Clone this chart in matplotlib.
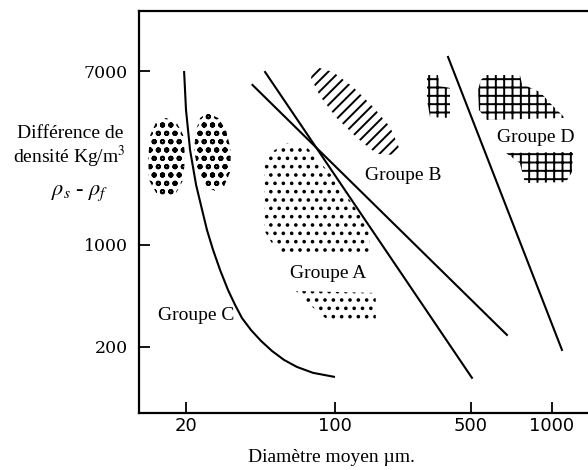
import numpy as np
import matplotlib
matplotlib.use('Agg')
import matplotlib.pyplot as plt
from matplotlib.patches import Polygon

# axis ticks (mean diameter in um, density difference in kg/m3)
x_ticks = [20, 100, 500, 1000]
y_ticks = [200, 1000, 7000]

# boundary C / A (curve)
c_d = [19.6, 20.0, 20.9, 22.3, 23.8, 25.1, 26.8, 28.9, 31.5, 34.0, 36.6, 40.4,
       45.0, 50.6, 57.7, 66.3, 78.9, 98.9]
c_rho = [6920, 4530, 2890, 1960, 1480, 1180, 924, 674, 491, 388, 316, 261,
         220, 188, 163, 146, 133, 125]
# the two A / B boundaries and the B / D boundary
ab1_d = [47, 504]
ab1_rho = [6920, 123]
ab2_d = [41, 680]
ab2_rho = [5990, 242]
bd_d = [381, 1089]
bd_rho = [8190, 191]

# shaded zones where each group was observed
c1_d = [16.1, 18.0, 19.4, 19.8, 19.4, 18.0, 16.1, 14.5, 13.4, 13.3, 13.6, 14.5]
c1_rho = [4140, 3960, 3420, 2680, 2070, 1790, 1710, 1790, 2070, 2680, 3420, 3960]
c2_d = [25.1, 28.3, 30.8, 32.5, 32.2, 30.2, 27.4, 24.6, 22.8, 21.8, 22.3, 23.3]
c2_rho = [4380, 4140, 3620, 2890, 2260, 1930, 1830, 1930, 2260, 2890, 3620, 4140]
a1_d = [58.3, 72.3, 83.2, 97.9, 119, 138, 150, 150, 58.3, 51.2, 46.5, 46.5, 50.6]
a1_rho = [3130, 3060, 2590, 2140, 1650, 1350, 1180, 868, 868, 1000, 1180, 2450, 2830]
a2_d = [65.6, 162, 162, 94.7, 76.3]
a2_rho = [484, 469, 297, 297, 388]
b_d = [78.9, 97.9, 124, 157, 192, 216, 203, 164, 130, 102, 85.0, 77.2]
b_rho = [7400, 6920, 5850, 4680, 3740, 2890, 2740, 2770, 3310, 4140, 5290, 6470]
d1_d = [297, 338, 346, 390, 390, 308, 297]
d1_rho = [6690, 6690, 5920, 5790, 4140, 4180, 5060]
d2_d = [569, 760, 774, 903, 1008, 1118, 573, 535, 531, 544]
d2_rho = [6690, 6690, 6050, 5530, 4730, 4140, 4050, 4530, 5660, 6330]
d3_d = [674, 1197, 1186, 1127, 794, 760]
d3_rho = [2800, 2830, 2260, 2020, 2000, 2500]


# the printed axes are hand drawn, decades do not have the same length,
# so use a log scale that is piecewise linear between the printed ticks
def make_scale(ticks, pos):
    k = list(np.log10(ticks))
    p = list(pos)
    lo = p[0] - (k[0] + 10) * (p[1] - p[0]) / (k[1] - k[0])
    hi = p[-1] + (10 - k[-1]) * (p[-1] - p[-2]) / (k[-1] - k[-2])
    k = [-10] + k + [10]
    p = [lo] + p + [hi]

    def fwd(v):
        with np.errstate(divide='ignore', invalid='ignore'):
            return np.interp(np.log10(v), k, p)

    def inv(u):
        return 10 ** np.interp(u, p, k)
    return fwd, inv


fx, ix = make_scale(x_ticks, [47, 196, 332, 413])
fy, iy = make_scale(y_ticks, [66, 168, 342])

plt.rcParams['hatch.linewidth'] = 1.4
plt.rcParams['mathtext.fontset'] = 'stix'

W, H = 588, 470
fig = plt.figure(figsize=(W / 100, H / 100), dpi=100)
ax = fig.add_axes([139 / W, 57 / H, 449 / W, 402 / H])
ax.set_xscale('function', functions=(fx, ix))
ax.set_yscale('function', functions=(fy, iy))
ax.set_xlim(ix(0), ix(449))
ax.set_ylim(iy(0), iy(402))

ax.plot(c_d, c_rho, color='black', lw=1.5)
ax.plot(ab1_d, ab1_rho, color='black', lw=1.5)
ax.plot(ab2_d, ab2_rho, color='black', lw=1.5)
ax.plot(bd_d, bd_rho, color='black', lw=1.5)

zones = [(c1_d, c1_rho, 'oo'), (c2_d, c2_rho, 'oo'),
         (a1_d, a1_rho, '..'), (a2_d, a2_rho, '..'),
         (b_d, b_rho, '///'),
         (d1_d, d1_rho, '++'), (d2_d, d2_rho, '++'), (d3_d, d3_rho, '++')]
for d, rho, h in zones:
    ax.add_patch(Polygon(np.column_stack([d, rho]), closed=True, facecolor='none',
                         edgecolor='black', linewidth=0, hatch=h))

for s in ['left', 'bottom', 'top']:
    ax.spines[s].set_linewidth(1.6)
ax.spines['right'].set_visible(False)

ax.minorticks_off()
ax.set_xticks(x_ticks)
ax.set_xticklabels([str(v) for v in x_ticks])
ax.set_yticks(y_ticks)
ax.set_yticklabels([str(v) for v in y_ticks])
ax.tick_params(axis='x', direction='in', length=8, width=1.3, pad=3, labelsize=13)
ax.tick_params(axis='y', direction='in', length=8, width=1.3, pad=8, labelsize=12.5)
for lab in ax.get_xticklabels():
    lab.set_fontfamily('DejaVu Sans')
for lab in ax.get_yticklabels():
    lab.set_fontfamily('DejaVu Serif')

serif = dict(family='Liberation Serif', size=14, ha='center', va='center')
fig.text(196 / W, 1 - 315 / H, 'Groupe C', **serif)
fig.text(328 / W, 1 - 273 / H, 'Groupe A', **serif)
fig.text(403 / W, 1 - 175 / H, 'Groupe B', **serif)
fig.text(536 / W, 1 - 137 / H, 'Groupe D', **serif)

fig.text(70 / W, 1 - 133 / H, 'Différence de', **serif)
fig.text(69 / W, 1 - 157 / H, 'densité Kg/m$^3$', **serif)
fig.text(80 / W, 1 - 193 / H, r'$\rho_s$ - $\rho_f$', family='Liberation Serif',
         size=16, ha='center', va='center')
fig.text(331 / W, 1 - 458 / H, 'Diamètre moyen µm.', **serif)

fig.savefig('out.png', dpi=100)
